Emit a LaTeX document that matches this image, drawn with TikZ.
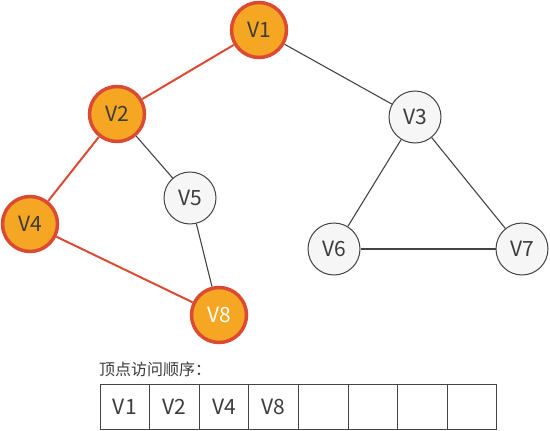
\documentclass[tikz,border=0pt]{standalone}
\usepackage{fontspec}
\setmainfont{Noto Sans CJK SC}
\definecolor{vorange}{HTML}{F5A623}
\definecolor{vred}{HTML}{DB4A32}
\definecolor{vgray}{HTML}{F6F6F6}
\definecolor{vline}{HTML}{444444}
\definecolor{vtext}{HTML}{3C3C3C}
\tikzset{
  visited/.style={circle,draw=vred,fill=vorange,line width=3.5pt,minimum size=55pt,inner sep=0pt,text=vtext,font=\fontsize{21}{24}\selectfont},
  unvisited/.style={circle,draw=vline,fill=vgray,line width=1pt,minimum size=52pt,inner sep=0pt,text=vtext,font=\fontsize{21}{24}\selectfont},
  redge/.style={draw=vred,line width=2pt},
  gedge/.style={draw=vline,line width=1.1pt},
  cell/.style={draw=vline,line width=1pt,minimum width=49.6pt,minimum height=45pt,inner sep=0pt,outer sep=0pt,text=vtext,font=\fontsize{21}{24}\selectfont,anchor=north west}
}
\begin{document}
\begin{tikzpicture}[x=1pt,y=-1pt]
\useasboundingbox (0,0) rectangle (550,431);
\node[visited] (v1) at (259,30) {V1};
\node[visited] (v2) at (117,114) {V2};
\node[unvisited] (v3) at (415,117) {V3};
\node[visited] (v4) at (30,224) {V4};
\node[unvisited] (v5) at (190,198) {V5};
\node[unvisited] (v6) at (334,249) {V6};
\node[unvisited] (v7) at (522,249) {V7};
\node[visited,text=white] (v8) at (219,315) {V8};
\draw[redge] (v1) -- (v2);
\draw[redge] (v2) -- (v4);
\draw[redge] (v4) -- (v8);
\draw[gedge] (v1) -- (v3);
\draw[gedge] (v2) -- (v5);
\draw[gedge] (v5) -- (v8);
\draw[gedge] (v3) -- (v6);
\draw[gedge] (v3) -- (v7);
\draw[gedge] (v6) -- (v7);
\node[anchor=west,text=vtext,font=\fontsize{16}{18}\selectfont,inner sep=0pt] (title) at (99,369) {顶点访问顺序：};
\node[cell] (c1) at (100,384) {V1};
\node[cell] (c2) at (c1.north east) {V2};
\node[cell] (c3) at (c2.north east) {V4};
\node[cell] (c4) at (c3.north east) {V8};
\node[cell] (c5) at (c4.north east) {};
\node[cell] (c6) at (c5.north east) {};
\node[cell] (c7) at (c6.north east) {};
\node[cell] (c8) at (c7.north east) {};
\end{tikzpicture}
\end{document}
